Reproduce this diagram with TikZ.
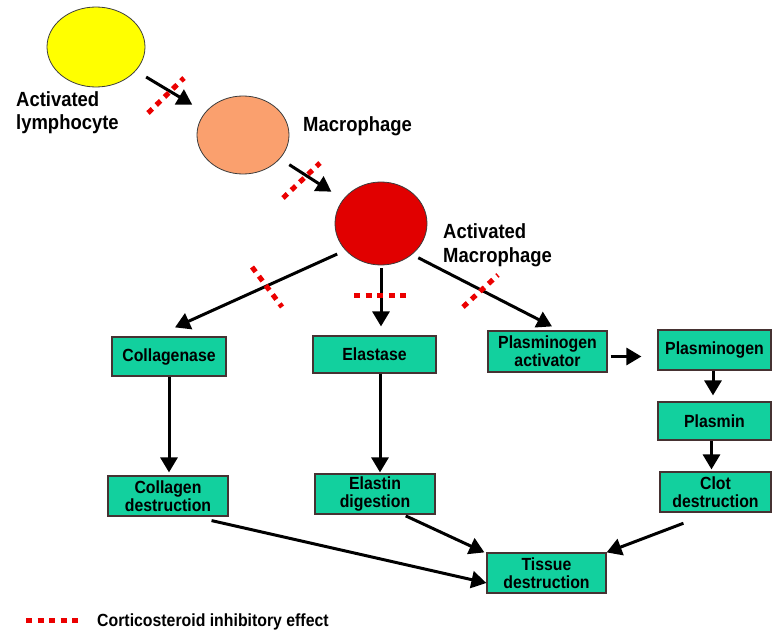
\documentclass[tikz,border=0pt]{standalone}
\usepackage{fontspec}
\setmainfont{Liberation Sans}[FakeStretch=0.9]
\usetikzlibrary{arrows.meta,shapes.geometric,calc}
\definecolor{boxgreen}{RGB}{18,208,158}
\definecolor{boxline}{RGB}{70,50,50}
\definecolor{inhibred}{RGB}{235,0,0}
\definecolor{lymyellow}{RGB}{255,255,0}
\definecolor{macorange}{RGB}{250,160,110}
\definecolor{actred}{RGB}{225,0,0}
\newcommand\bxfont{\fontsize{17.6}{18}\selectfont\bfseries}
\newcommand\lbfont{\fontsize{20.5}{23.5}\selectfont\bfseries}
\begin{document}
\begin{tikzpicture}[x=1pt,y=-1pt,
  box/.style={draw=boxline, line width=1.2pt, fill=boxgreen, inner sep=0pt, align=center, font=\bxfont},
  cell/.style={ellipse, draw={rgb,255:red,60;green,60;blue,60}, line width=0.8pt, inner sep=0pt},
  arr/.style={line width=3pt, -{Triangle[length=15pt,width=17pt]}},
  inhib/.style={draw=inhibred, line width=5pt, dash pattern=on 6pt off 5.5pt},
  lab/.style={font=\lbfont, align=left, inner sep=0pt}]
\useasboundingbox (0,0) rectangle (772,634);

% cells
\node[cell, fill=lymyellow, minimum width=98pt, minimum height=80pt] (lym) at (96,47) {};
\node[cell, fill=macorange, minimum width=92pt, minimum height=78pt] (mac) at (243,135) {};
\node[cell, fill=actred, minimum width=92pt, minimum height=83pt] (act) at (381,223.5) {};

% labels
\node[lab, anchor=west] (lymlab) at (16,112.7) {Activated\\lymphocyte};
\node[lab, anchor=west] (maclab) at (303,126.3) {Macrophage};
\node[lab, anchor=west] (actlab) at (443,245) {Activated\\Macrophage};

% boxes
\node[box, minimum width=114pt, minimum height=39pt] (coll) at (169,356.5) {Collagenase};
\node[box, minimum width=123pt, minimum height=37pt] (ela) at (374.5,354.5) {Elastase};
\node[box, minimum width=119pt, minimum height=41pt] (pa) at (547.5,351.5) {Plasminogen\\activator};
\node[box, minimum width=113pt, minimum height=40pt] (plg) at (714.5,350) {Plasminogen};
\node[box, minimum width=113pt, minimum height=38pt] (pls) at (714.5,421) {Plasmin};
\node[box, minimum width=111pt, minimum height=40pt] (clot) at (715.5,492) {Clot\\destruction};
\node[box, minimum width=120pt, minimum height=40pt] (cd) at (168,496) {Collagen\\destruction};
\node[box, minimum width=120pt, minimum height=40pt] (ed) at (375,494) {Elastin\\digestion};
\node[box, minimum width=119pt, minimum height=40pt] (td) at (546.5,573) {Tissue\\destruction};

% arrows
\draw[arr, shorten <=12pt, shorten >=15pt] (lym) -- (mac);
\draw[arr, shorten <=11pt, shorten >=14pt] (mac) -- (act);
\draw[arr, shorten <=9pt] (act.217) -- ($(coll.north)+(6,-9)$);
\draw[arr, shorten <=3pt] (act.south) -- ($(ela.north)+(6.5,-9)$);
\draw[arr, shorten <=7pt] (act.-45) -- ($(pa.north)+(4.5,-4)$);
\draw[arr, shorten <=3pt, shorten >=16pt] ([yshift=-5pt]pa.east) -- ([yshift=-5pt]pa.east -| plg.west);
\draw[arr, shorten >=6pt] ([xshift=-1.5pt]plg.south) -- ([xshift=-1.5pt]pls.north);
\draw[arr, shorten >=2pt] ([xshift=-3pt]pls.south) -- ([xshift=-3pt]pls.south |- clot.north);
\draw[arr, shorten >=3pt] (coll.south) -- (coll.south |- cd.north);
\draw[arr, shorten >=1pt] ([xshift=5.5pt]ela.south) -- ([xshift=5.5pt]ela.south |- ed.north);
\draw[arr, shorten <=18pt] ($(cd.south)+(26,0)$) -- ($(td.west)+(0,10)$);
\draw[arr, shorten <=3pt] ($(ed.south)+(28,0)$) -- ($(td.north west)+(-2,0)$);
\draw[arr, shorten <=30pt] ([xshift=-4pt]clot.south) -- (td.north east);

% inhibitory marks
\draw[inhib] (148,113) -- (184,78);
\draw[inhib] (283,198) -- (320,163);
\draw[inhib] (252,267) -- (282,307);
\draw[inhib] (354,295) -- (408,295);
\draw[inhib] (463,307) -- (498,275);

% legend
\node[font=\bxfont, anchor=west, inner sep=0pt] (legtxt) at (97,622) {Corticosteroid inhibitory effect};
\draw[inhib] (26,620) -- ([xshift=-18pt,yshift=2pt]legtxt.west);
\end{tikzpicture}
\end{document}
